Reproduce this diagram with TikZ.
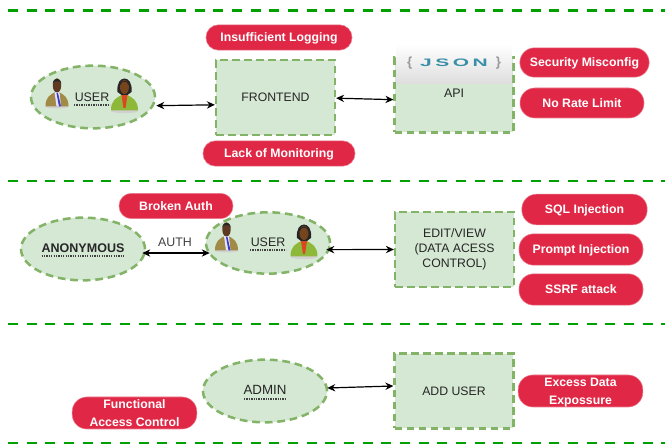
\documentclass[tikz,border=0pt]{standalone}
\usepackage{fontspec}
\setmainfont{Liberation Sans}
\usetikzlibrary{shapes.geometric,arrows.meta}
\definecolor{sepgreen}{HTML}{00A000}
\definecolor{boxfill}{HTML}{D5E8D4}
\definecolor{boxline}{HTML}{82B366}
\definecolor{redpill}{HTML}{E02846}
\definecolor{jsonblue}{HTML}{3A8FA8}
\definecolor{suitbrown}{HTML}{A08A45}
\definecolor{skinA}{HTML}{5E3A22}
\definecolor{jacket}{HTML}{8DB83A}
\tikzset{
  x=0.75pt,y=-0.75pt,
  septline/.style={draw=sepgreen,line width=1.7pt,dash pattern=on 7.5pt off 6.5pt},
  gbox/.style={rectangle,draw=boxline,fill=boxfill,line width=1.9pt,dash pattern=on 5.8pt off 3.2pt,inner sep=0pt,font=\fontsize{9.2}{11.25}\selectfont,align=center,text=black!85,minimum width=89pt,minimum height=56pt},
  gell/.style={ellipse,draw=boxline,fill=boxfill,line width=1.9pt,dash pattern=on 5.8pt off 3.6pt,inner sep=0pt,minimum width=93pt,minimum height=47pt},
  pill/.style={rectangle,rounded corners=11pt,fill=redpill,draw=redpill!60!white,line width=.4pt,text=white,font=\fontsize{9.2}{13.5}\selectfont\bfseries,align=center,inner sep=0pt,text height=6.6pt,text depth=0pt},
  slimpill/.style={pill,rounded corners=9.3pt,minimum height=19pt},
  twopill/.style={pill,minimum width=93.5pt,minimum height=24pt,text height=20.1pt},
  link/.style={{Stealth[length=6pt,width=5.5pt]}-{Stealth[length=6pt,width=5.5pt]},line width=.9pt,black},
  ulab/.style={inner sep=0pt,font=\fontsize{9.3}{11}\selectfont,text=black!85},
  dotu/.style={draw=black!75,line width=.9pt,dash pattern=on 1pt off .8pt},
}
\newcommand{\manicon}[2]{%
  \begin{scope}[shift={(#1,#2)}]
    \fill[black!18] (0,22.5) ellipse (12 and 2);
    \fill[suitbrown] (-11.5,22.5) .. controls (-11.5,13) and (-7,11) .. (-2,8) -- (2,8) .. controls (7,11) and (11.5,13) .. (11.5,22.5) -- cycle;
    \fill[white!90!blue] (-2.5,8) -- (2.5,8) -- (4,22.5) -- (-0.5,22.5) -- cycle;
    \fill[blue!55!gray] (-0.5,9) -- (1,9) -- (4,22.5) -- (2,22.5) -- cycle;
    \fill[skinA] (0,1.5) ellipse (4.2 and 7);
    \fill[black!85] (-4.2,0) .. controls (-4.2,-7) and (4.2,-7) .. (4.2,0) -- (3,-2.5) -- (-3,-2.5) -- cycle;
  \end{scope}}
\newcommand{\womanicon}[2]{%
  \begin{scope}[shift={(#1,#2)}]
    \fill[black!18] (0,28) ellipse (13.5 and 2.2);
    \fill[jacket] (-13.5,27.5) .. controls (-13.5,17) and (-8,15) .. (-3,12) -- (3,12) .. controls (8,15) and (13.5,17) .. (13.5,27.5) -- cycle;
    \fill[red!45!brown] (-3,12) -- (3,12) -- (1,25) -- (-1,25) -- cycle;
    \fill[black!85] (-7,9) .. controls (-9,-9) and (9,-9) .. (7,9) -- (3,12) -- (-3,12) -- cycle;
    \fill[skinA!85!orange] (0,4) ellipse (4.5 and 7);
    \fill[black!85] (-4.5,2.5) .. controls (-4,-4) and (4,-4) .. (4.5,2.5) -- (2,-1) -- (-2,-1) -- cycle;
  \end{scope}}
\begin{document}
\begin{tikzpicture}
\useasboundingbox (0,0) rectangle (665,445);
% separators
\coordinate (s1a) at (8,10.5); \coordinate (s1b) at (665,10.5);
\coordinate (s2a) at (8,181); \coordinate (s2b) at (665,181);
\coordinate (s3a) at (8,324); \coordinate (s3b) at (665,324);
\coordinate (s4a) at (8,443); \coordinate (s4b) at (665,443);
\draw[septline] (s1a) -- (s1b);
\draw[septline] (s2a) -- (s2b);
\draw[septline] (s3a) -- (s3b);
\draw[septline] (s4a) -- (s4b);
% row 1
\node[gell] (user1) at (93,97) {};
\node[gbox] (front) at (275.5,97.5) {FRONTEND};
\node[gbox] (api) at (454,95) {};
\node[slimpill,minimum width=109.5pt] (p1) at (279,37.5) {Insufficient Logging};
\node[slimpill,minimum width=114pt] (p2) at (279,153.5) {Lack of Monitoring};
\node[pill,minimum width=97pt,minimum height=22pt] (p3) at (584.5,62.5) {Security Misconfig};
\node[pill,minimum width=93pt,minimum height=22.5pt] (p4) at (582,103) {No Rate Limit};
\manicon{57}{84}
\womanicon{124.5}{83}
\node[ulab] (u1t) at (92,97) {USER};
\draw[dotu] (74,105) -- (110,105);
\draw[link] ([yshift=-6.5pt]user1.east) -- ([yshift=-5.5pt]front.west);
\draw[link] ([yshift=-0.5pt]front.east) -- ([yshift=-3.5pt]api.west);
% json header
\node[inner sep=0pt,minimum width=87pt,minimum height=30pt,top color=white,bottom color=black!13] (jsonhead) at (454,64) {};
\node[inner sep=0pt,font=\fontsize{9}{10}\selectfont\bfseries,text=jsonblue] (jsont) at (454,63) {\textcolor{black!40}{\scalebox{1.1}{\{}}\hspace{6pt}\scalebox{1.75}[0.9]{J\,S\,O\,N}\hspace{6pt}\textcolor{black!40}{\scalebox{1.1}{\}}}};
\node[ulab] (apit) at (454,93) {API};
% row 2
\node[gell] (anon) at (83,249) {};
\node[ulab,font=\fontsize{9.4}{11}\selectfont\bfseries] (anont) at (83,248) {ANONYMOUS};
\draw[dotu] (41.5,256) -- (125,256);
\node[gell,minimum height=46pt] (user2) at (268,243) {};
\manicon{226.5}{228}
\womanicon{304}{229}
\node[ulab] (u2t) at (268,242) {USER};
\draw[dotu] (250,250) -- (286,250);
\node[slimpill,minimum width=85.5pt] (p5) at (176,206) {Broken Auth};
\node[ulab,text=black!75] (auth) at (175,242) {AUTH};
\draw[link] ([xshift=-3pt,yshift=-3pt]anon.east) -- ([xshift=3.75pt,yshift=-7.5pt]user2.west);
\node[gbox] (edit) at (454.5,249.5) {EDIT/VIEW\\(DATA ACESS\\CONTROL)};
\draw[link] ([xshift=-3.75pt,yshift=-5pt]user2.east) -- (edit.west);
\node[pill,minimum width=94pt,minimum height=23pt] (p6) at (584.5,209.5) {SQL Injection};
\node[pill,minimum width=93pt,minimum height=23.5pt] (p7) at (581,249.5) {Prompt Injection};
\node[pill,minimum width=93pt,minimum height=23.5pt] (p8) at (581,289.5) {SSRF attack};
% row 3
\node[gell] (admin) at (265,391) {};
\node[ulab,font=\fontsize{10}{11}\selectfont] (admint) at (265,390) {ADMIN};
\draw[dotu] (244,399) -- (286,399);
\node[gbox] (add) at (454,391) {ADD USER};
\draw[link] ([xshift=-.75pt,yshift=2.25pt]admin.east) -- ([yshift=3.75pt]add.west);
\node[twopill] (p9) at (134.5,413) {Functional\\Access Control};
\node[twopill] (p10) at (580.5,391) {Excess Data\\Expossure};
\end{tikzpicture}
\end{document}
